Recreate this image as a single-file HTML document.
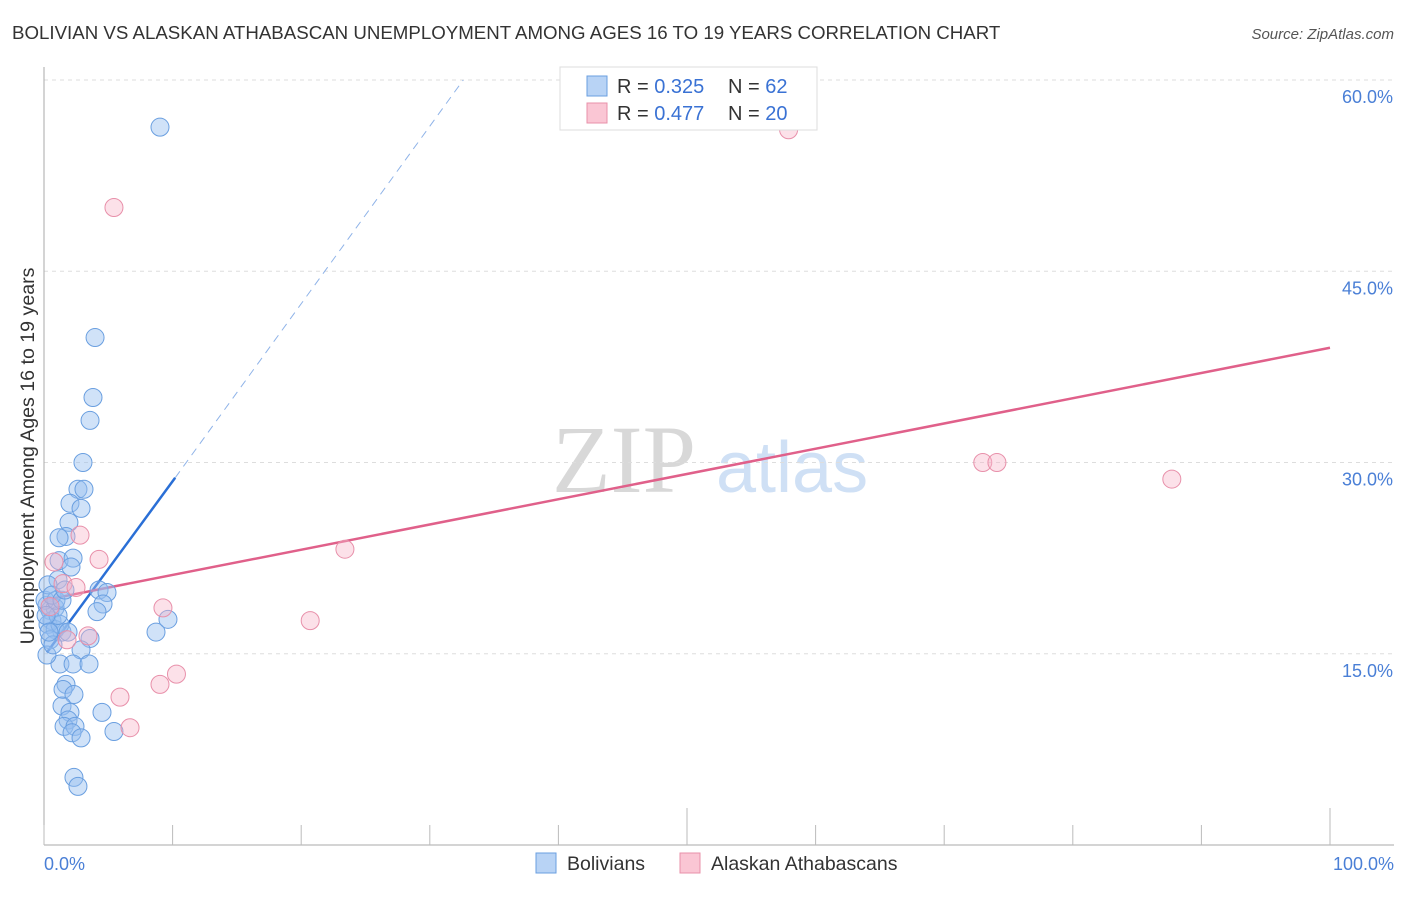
<!DOCTYPE html>
<html><head><meta charset="utf-8"><style>
body{margin:0;background:#fff;font-family:"Liberation Sans",sans-serif}
</style></head><body>
<svg id="chart" width="1406" height="892" xmlns="http://www.w3.org/2000/svg" style="font-family:'Liberation Sans',sans-serif">
<text x="12" y="39" font-size="18.7" fill="#333">BOLIVIAN VS ALASKAN ATHABASCAN UNEMPLOYMENT AMONG AGES 16 TO 19 YEARS CORRELATION CHART</text>
<text x="1394" y="39" font-size="15" fill="#555" text-anchor="end" font-style="italic">Source: ZipAtlas.com</text>
<g>
<text x="552" y="492" font-size="96" fill="#d8d8d8" font-family="Liberation Serif,serif">ZIP</text>
<text x="716" y="492" font-size="72" fill="#cfe0f5">atlas</text>
</g>
<g id="grid"></g><g id="axes"></g><g id="trends"></g><g id="points"></g>
<text transform="translate(34,456) rotate(-90)" font-size="19.6" fill="#333" text-anchor="middle">Unemployment Among Ages 16 to 19 years</text>
<g>
<rect x="560" y="67" width="257" height="63" fill="#fff" stroke="#ddd"/>
<rect x="587" y="76" width="20" height="20" fill="#b8d3f5" stroke="#6a9fe0"/>
<text x="617" y="93" font-size="20" fill="#333">R = <tspan fill="#3a72d4">0.325</tspan></text>
<text x="728" y="93" font-size="20" fill="#333">N = <tspan fill="#3a72d4">62</tspan></text>
<rect x="587" y="103" width="20" height="20" fill="#fac6d4" stroke="#e890aa"/>
<text x="617" y="120" font-size="20" fill="#333">R = <tspan fill="#3a72d4">0.477</tspan></text>
<text x="728" y="120" font-size="20" fill="#333">N = <tspan fill="#3a72d4">20</tspan></text>
</g>
<g>
<rect x="536" y="853" width="20" height="20" fill="#b8d3f5" stroke="#6a9fe0"/>
<text x="567" y="870" font-size="19.5" fill="#333">Bolivians</text>
<rect x="680" y="853" width="20" height="20" fill="#fac6d4" stroke="#e890aa"/>
<text x="711" y="870" font-size="19.5" fill="#333">Alaskan Athabascans</text>
</g>
</svg>
<script>
const yTicks=[15,30,45,60];
const yTickLabels=["15.0%","30.0%","45.0%","60.0%"];
const xTicks=[0,10,20,30,40,50,60,70,80,90,100];
const bolX=[9.02,3.97,3.81,3.58,3.03,2.64,3.11,2.02,2.88,1.94,1.71,1.17,1.17,2.26,2.10,4.28,4.90,4.59,4.12,8.71,9.64,1.40,3.58,2.88,1.24,2.26,3.50,1.71,1.48,2.33,1.40,4.51,2.02,1.87,1.56,2.41,2.18,2.88,5.44,2.33,2.64,0.23,0.47,0.86,0.62,0.31,0.86,1.24,0.47,0.23,0.70,1.09,0.08,1.87,1.09,0.31,0.93,0.62,1.40,1.63,0.16,0.39];
const bolY=[56.3,39.8,35.1,33.3,30.0,27.9,27.9,26.8,26.4,25.3,24.2,24.1,22.3,22.5,21.8,20.0,19.8,18.9,18.3,16.7,17.7,16.7,16.2,15.3,14.2,14.2,14.2,12.6,12.2,11.8,10.9,10.4,10.4,9.8,9.3,9.3,8.8,8.4,8.9,5.3,4.6,18.8,18.4,18.6,17.6,17.3,16.9,17.3,16.1,14.9,15.7,18.0,19.2,16.7,20.8,20.4,19.2,19.6,19.2,20.0,18.0,16.7];
const athX=[57.9,5.44,2.80,4.28,0.78,1.48,2.49,23.4,9.25,20.7,3.42,1.79,10.3,9.02,5.91,6.69,73.0,74.1,87.7,0.47];
const athY=[56.1,50.0,24.3,22.4,22.2,20.5,20.2,23.2,18.6,17.6,16.4,16.1,13.4,12.6,11.6,9.2,30.0,30.0,28.7,18.7];
const bolTrend=[[0.23,15.1],[10.2,28.8],[32.6,60]];
const athTrend=[[0,19.2],[100,39.0]];
const X=v=>44+v*12.86, Y=v=>845-v*12.75;
const NS="http://www.w3.org/2000/svg";
function mk(t,a,p){const e=document.createElementNS(NS,t);for(const k in a)e.setAttribute(k,a[k]);document.getElementById(p).appendChild(e);return e;}
yTicks.forEach((t,i)=>{
 const l=mk('line',{x1:44,x2:1394,y1:Y(t),y2:Y(t),stroke:'#ddd','stroke-dasharray':'4,4'},'grid');
 
 
 const tx=mk('text',{x:1393,y:Y(t)+23,'font-size':18,fill:'#4a7fd6','text-anchor':'end'},'axes');
 tx.textContent=yTickLabels[i];
 
 
});
const ya=mk('line',{x1:44,x2:44,y1:67,y2:845,stroke:'#aaa'},'axes');


const xa=mk('line',{x1:44,x2:1394,y1:845,y2:845,stroke:'#aaa'},'axes');


xTicks.forEach(t=>{
 const tk=mk('line',{x1:X(t),x2:X(t),y1:(t%50===0&&t>0)?808:825,y2:845,stroke:'#bbb'},'axes');
 
 
});
const x0=mk('text',{x:44,y:870,'font-size':18,fill:'#4a7fd6'},'axes');x0.textContent='0.0%';


const x1=mk('text',{x:1394,y:870,'font-size':18,fill:'#4a7fd6','text-anchor':'end'},'axes');x1.textContent='100.0%';


const b1=mk('line',{x1:X(bolTrend[0][0]),y1:Y(bolTrend[0][1]),x2:X(bolTrend[1][0]),y2:Y(bolTrend[1][1]),stroke:'#2a6fd6','stroke-width':2.5},'trends');


const b2=mk('line',{x1:X(bolTrend[1][0]),y1:Y(bolTrend[1][1]),x2:X(bolTrend[2][0]),y2:Y(bolTrend[2][1]),stroke:'#8fb3e8','stroke-width':1,'stroke-dasharray':'8,6'},'trends');


const a1=mk('line',{x1:X(athTrend[0][0]),y1:Y(athTrend[0][1]),x2:X(athTrend[1][0]),y2:Y(athTrend[1][1]),stroke:'#e0608a','stroke-width':2.5},'trends');


bolX.forEach((v,i)=>{
 const c=mk('circle',{cx:X(v),cy:Y(bolY[i]),r:9,fill:'rgba(150,190,240,0.45)',stroke:'#6a9fe0','stroke-width':1},'points');
 
 
});
athX.forEach((v,i)=>{
 const c=mk('circle',{cx:X(v),cy:Y(athY[i]),r:9,fill:'rgba(248,180,200,0.4)',stroke:'#e890aa','stroke-width':1},'points');
 
 
});
</script>
</body></html>
